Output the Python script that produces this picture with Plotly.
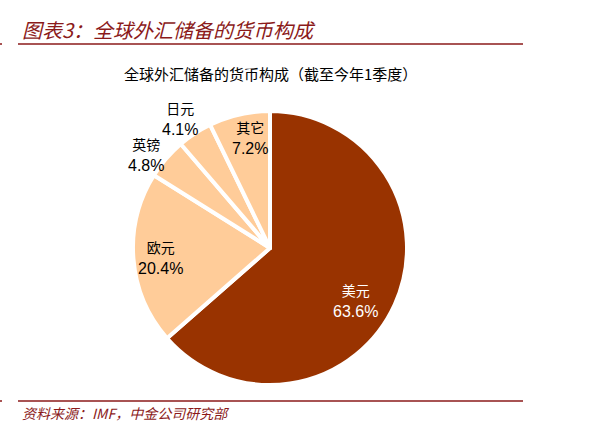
import math
import plotly.graph_objects as go

categories = ["美元", "欧元", "英镑", "日元", "其它"]
values = [63.6, 20.4, 4.8, 4.1, 7.2]
slice_colors = ["#993300", "#FFCC99", "#FFCC99", "#FFCC99", "#FFCC99"]
label_colors = ["white", "black", "black", "black", "black"]
label_radius = [0.727, 0.80, 1.136, 1.156, 0.823]  # fraction of pie radius
label_angle_shift = [7.0, 0.0, -3.8, -1.5, 2.8]     # degrees from slice mid-angle

CJK = "Noto Sans CJK SC"
NUM = "Liberation Sans, Arial, sans-serif"

W, H = 606, 441
cx, cy, r = 270, 248, 137

fig = go.Figure(go.Pie(
    labels=categories,
    values=values,
    textinfo="none",
    sort=False,
    direction="clockwise",
    rotation=0,
    marker=dict(colors=slice_colors, line=dict(color="white", width=4)),
    domain=dict(x=[(cx - r) / W, (cx + r) / W], y=[(H - cy - r) / H, (H - cy + r) / H]),
    showlegend=False,
    hoverinfo="label+percent",
))

# slice labels placed along each slice's mid-angle (clockwise from 12 o'clock)
annotations = []
total = sum(values)
cum = 0.0
for c, v, col, f, sh in zip(categories, values, label_colors, label_radius, label_angle_shift):
    mid = (cum + v / 2) / total * 2 * math.pi + math.radians(sh)
    cum += v
    px = cx + f * r * math.sin(mid)
    py = cy - f * r * math.cos(mid)
    annotations.append(dict(
        text=f"<span style='font-family:{CJK};font-size:14px'>{c}</span><br>{v:.1f}%",
        xref="paper", yref="paper", x=px / W, y=1 - py / H,
        xanchor="center", yanchor="middle", showarrow=False,
        font=dict(family=NUM, size=16, color=col),
    ))

red = "#8B1A1A"
annotations += [
    dict(text="<i>图表3：全球外汇储备的货币构成</i>", xref="paper", yref="paper",
         x=20 / W, y=1 - 30 / H, xanchor="left", yanchor="middle", showarrow=False,
         font=dict(family=CJK, size=20, color=red)),
    dict(text="全球外汇储备的货币构成（截至今年1季度）", xref="paper", yref="paper",
         x=270 / W, y=1 - 73 / H, xanchor="center", yanchor="middle", showarrow=False,
         font=dict(family=CJK, size=15, color="black")),
    dict(text="<i>资料来源：IMF，中金公司研究部</i>", xref="paper", yref="paper",
         x=20 / W, y=1 - 413 / H, xanchor="left", yanchor="middle", showarrow=False,
         font=dict(family=CJK, size=14, color=red)),
]

fig.update_layout(
    width=W, height=H,
    margin=dict(l=0, r=0, t=0, b=0),
    paper_bgcolor="white",
    plot_bgcolor="white",
    showlegend=False,
    shapes=[
        dict(type="line", xref="paper", yref="paper", x0=18 / W, x1=523 / W, y0=1 - 44 / H, y1=1 - 44 / H,
             line=dict(color=red, width=1.5)),
        dict(type="line", xref="paper", yref="paper", x0=0, x1=2 / W, y0=1 - 44 / H, y1=1 - 44 / H,
             line=dict(color=red, width=1.5)),
        dict(type="line", xref="paper", yref="paper", x0=18 / W, x1=523 / W, y0=1 - 401 / H, y1=1 - 401 / H,
             line=dict(color=red, width=1.5)),
        dict(type="line", xref="paper", yref="paper", x0=0, x1=2 / W, y0=1 - 401 / H, y1=1 - 401 / H,
             line=dict(color=red, width=1.5)),
    ],
    annotations=annotations,
)

fig.write_html("out.html", config={"displayModeBar": False},
               post_script="document.body.style.margin='0';document.body.style.overflow='hidden';")
